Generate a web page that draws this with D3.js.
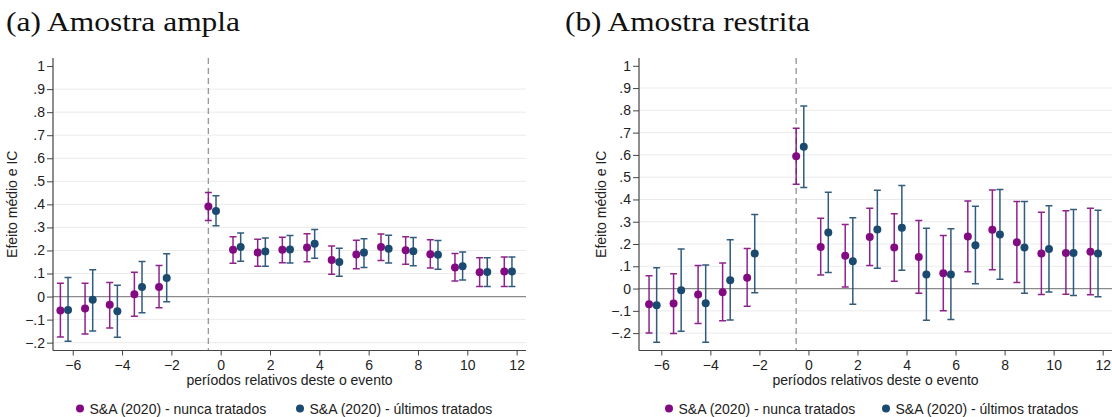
<!DOCTYPE html>
<html>
<head>
<meta charset="utf-8">
<script src="https://cdn.jsdelivr.net/npm/d3@7"></script>
<style>
  body { margin: 0; background: #fff; }
  svg { display: block; }
  .title { font-family: "Liberation Serif", "Times New Roman", serif; font-size: 28px; fill: #111; }
  .tick-text, .axis-title, .legend-text { font-family: "Liberation Sans", Arial, sans-serif; font-size: 14px; fill: #222; }
</style>
</head>
<body>
<svg id="chart" width="1112" height="417"></svg>
<script>
// relative periods (reference period -1 omitted)
const periods = [-6, -5, -4, -3, -2, 0, 1, 2, 3, 4, 5, 6, 7, 8, 9, 10, 11, 12];
const xTicks = [-6, -4, -2, 0, 2, 4, 6, 8, 10, 12];
const yTicks = [-0.2, -0.1, 0, 0.1, 0.2, 0.3, 0.4, 0.5, 0.6, 0.7, 0.8, 0.9, 1];
const seriesNames = ['S&A (2020) - nunca tratados', 'S&A (2020) - últimos tratados'];

// (a) amostra ampla
const amplaNunca = [-0.061, -0.052, -0.036, 0.010, 0.042, 0.391, 0.203, 0.191, 0.203, 0.213, 0.159, 0.182, 0.215, 0.201, 0.184, 0.126, 0.106, 0.109];
const amplaNuncaLo = [-0.175, -0.162, -0.136, -0.085, -0.048, 0.330, 0.144, 0.131, 0.147, 0.151, 0.097, 0.121, 0.156, 0.140, 0.124, 0.068, 0.044, 0.044];
const amplaNuncaHi = [0.058, 0.058, 0.061, 0.106, 0.135, 0.452, 0.259, 0.249, 0.257, 0.272, 0.219, 0.244, 0.271, 0.260, 0.247, 0.187, 0.168, 0.172];
const amplaUltimos = [-0.058, -0.014, -0.064, 0.042, 0.081, 0.371, 0.215, 0.196, 0.204, 0.229, 0.150, 0.191, 0.207, 0.197, 0.181, 0.132, 0.107, 0.109];
const amplaUltimosLo = [-0.194, -0.149, -0.177, -0.070, -0.022, 0.307, 0.153, 0.131, 0.146, 0.166, 0.088, 0.126, 0.146, 0.134, 0.119, 0.072, 0.044, 0.044];
const amplaUltimosHi = [0.083, 0.116, 0.049, 0.152, 0.186, 0.437, 0.276, 0.254, 0.265, 0.291, 0.210, 0.251, 0.266, 0.256, 0.243, 0.193, 0.168, 0.172];

// (b) amostra restrita
const restritaNunca = [-0.070, -0.067, -0.027, -0.016, 0.049, 0.594, 0.187, 0.147, 0.232, 0.184, 0.142, 0.069, 0.234, 0.264, 0.208, 0.157, 0.160, 0.165];
const restritaNuncaLo = [-0.199, -0.202, -0.157, -0.145, -0.079, 0.468, 0.061, 0.007, 0.103, 0.033, -0.021, -0.100, 0.075, 0.085, 0.027, -0.027, -0.025, -0.028];
const restritaNuncaHi = [0.057, 0.067, 0.103, 0.115, 0.180, 0.720, 0.316, 0.288, 0.361, 0.336, 0.306, 0.238, 0.393, 0.442, 0.391, 0.343, 0.349, 0.361];
const restritaUltimos = [-0.075, -0.007, -0.066, 0.037, 0.157, 0.637, 0.252, 0.123, 0.265, 0.273, 0.063, 0.063, 0.195, 0.243, 0.184, 0.178, 0.160, 0.157];
const restritaUltimosLo = [-0.241, -0.192, -0.241, -0.141, -0.019, 0.454, 0.072, -0.070, 0.091, 0.082, -0.142, -0.139, 0.022, 0.042, -0.021, -0.015, -0.031, -0.037];
const restritaUltimosHi = [0.093, 0.178, 0.106, 0.219, 0.333, 0.819, 0.432, 0.318, 0.441, 0.463, 0.271, 0.268, 0.370, 0.445, 0.391, 0.372, 0.355, 0.352];

const COLORS = ['#830b81', '#1b4a70'];
const OFFSETS = [-0.5, -0.19];
const EVENT_LINE = -0.5;

const svg = d3.select('#chart');
svg.append('rect').attr('width', 1112).attr('height', 417).attr('fill', '#fff');

function toRows(est, lo, hi) {
  return periods.map((p, i) => ({ p: p, est: est[i], lo: lo[i], hi: hi[i] }));
}

const panels = [
  {
    title: '(a) Amostra ampla', titleX: 6, titleW: 234,
    left: 53, right: 526, xDomain: [-6.8, 12.38],
    yDomain: [-0.234, 1.035],
    yTitleX: 17, legendX: [80, 300],
    series: [toRows(amplaNunca, amplaNuncaLo, amplaNuncaHi), toRows(amplaUltimos, amplaUltimosLo, amplaUltimosHi)]
  },
  {
    title: '(b) Amostra restrita', titleX: 565, titleW: 245,
    left: 639, right: 1112, xDomain: [-6.91, 12.38],
    yDomain: [-0.278, 1.035],
    yTitleX: 606, legendX: [669, 886],
    series: [toRows(restritaNunca, restritaNuncaLo, restritaNuncaHi), toRows(restritaUltimos, restritaUltimosLo, restritaUltimosHi)]
  }
];

const TOP = 58, BOTTOM = 350.5;
const fmt = v => v === 0 ? '0' : (v === 1 ? '1' : d3.format('.1f')(v).replace('0.', '.'));

panels.forEach(pn => {
  const x = d3.scaleLinear().domain(pn.xDomain).range([pn.left, pn.right]);
  const y = d3.scaleLinear().domain(pn.yDomain).range([BOTTOM, TOP]);
  const g = svg.append('g');

  g.append('text')
    .attr('class', 'title')
    .attr('x', pn.titleX)
    .attr('y', 31)
    .attr('textLength', pn.titleW)
    .attr('lengthAdjust', 'spacingAndGlyphs')
    .text(pn.title);

  // gridlines
  g.selectAll('.grid')
    .data(yTicks.filter(v => v !== 0 && v !== 1))
    .enter()
    .append('line')
    .attr('class', 'grid')
    .attr('x1', pn.left)
    .attr('x2', pn.right)
    .attr('y1', y)
    .attr('y2', y)
    .attr('stroke', '#ebebeb')
    .attr('stroke-width', 1);

  // zero line
  g.append('line')
    .attr('x1', pn.left).attr('x2', pn.right)
    .attr('y1', y(0)).attr('y2', y(0))
    .attr('stroke', '#8a8a8a')
    .attr('stroke-width', 1.2);

  // event line
  g.append('line')
    .attr('x1', x(EVENT_LINE)).attr('x2', x(EVENT_LINE))
    .attr('y1', TOP).attr('y2', BOTTOM)
    .attr('stroke', '#9a9a9a')
    .attr('stroke-width', 1.4)
    .attr('stroke-dasharray', '6,4');

  // axes
  const yAxis = g.append('g')
    .attr('transform', `translate(${pn.left},0)`)
    .call(d3.axisLeft(y).tickValues(yTicks).tickFormat(fmt).tickSize(6).tickPadding(2));
  const xAxis = g.append('g')
    .attr('transform', `translate(0,${BOTTOM})`)
    .call(d3.axisBottom(x).tickValues(xTicks).tickSize(5).tickPadding(5));

  [yAxis, xAxis].forEach(ax => {
    ax.select('.domain').attr('stroke', '#444').attr('stroke-width', 1.2);
    ax.selectAll('.tick line').attr('stroke', '#444').attr('stroke-width', 1);
    ax.selectAll('.tick text')
      .attr('class', 'tick-text')
      .attr('font-family', null)
      .attr('font-size', null)
      .attr('fill', null);
  });
  // plain axis lines, no end caps
  yAxis.select('.domain').attr('d', `M0,${TOP}V${BOTTOM}`);
  xAxis.select('.domain').attr('d', `M${pn.left},0H${pn.right}`);

  g.append('text')
    .attr('class', 'axis-title')
    .attr('transform', `translate(${pn.yTitleX},${(TOP + BOTTOM) / 2}) rotate(-90)`)
    .attr('text-anchor', 'middle')
    .text('Efeito médio e IC');

  g.append('text')
    .attr('class', 'axis-title')
    .attr('x', (pn.left + pn.right) / 2)
    .attr('y', 385)
    .attr('text-anchor', 'middle')
    .text('períodos relativos deste o evento');

  // confidence intervals and point estimates
  pn.series.forEach((rows, si) => {
    const color = COLORS[si];
    const px = d => x(d.p + OFFSETS[si]);
    const s = g.append('g');

    s.selectAll('.ci')
      .data(rows)
      .enter()
      .append('path')
      .attr('class', 'ci')
      .attr('d', d => `M${px(d) - 3.5},${y(d.hi)}H${px(d) + 3.5}M${px(d)},${y(d.hi)}V${y(d.lo)}M${px(d) - 3.5},${y(d.lo)}H${px(d) + 3.5}`)
      .attr('fill', 'none')
      .attr('stroke', color)
      .attr('stroke-opacity', 0.9)
      .attr('stroke-width', 1.5);

    s.selectAll('.pt')
      .data(rows)
      .enter()
      .append('circle')
      .attr('class', 'pt')
      .attr('cx', px)
      .attr('cy', d => y(d.est))
      .attr('r', 4)
      .attr('fill', color);

    // legend
    g.append('circle')
      .attr('cx', pn.legendX[si])
      .attr('cy', 408.5)
      .attr('r', 4)
      .attr('fill', color);
    g.append('text')
      .attr('class', 'legend-text')
      .attr('x', pn.legendX[si] + 9.5)
      .attr('y', 413.5)
      .text(seriesNames[si]);
  });
});
</script>
</body>
</html>
